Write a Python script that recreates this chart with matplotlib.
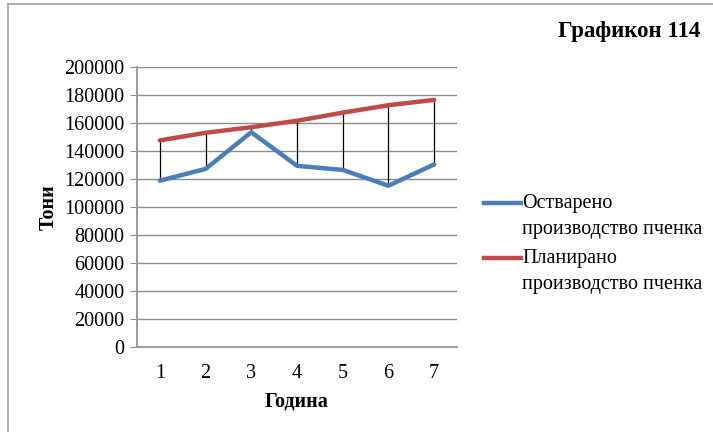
import matplotlib.pyplot as plt
from matplotlib.lines import Line2D

plt.rcParams.update({
    "font.family": ["Liberation Serif", "DejaVu Serif"],
    "font.size": 14.5,
})

years = [1, 2, 3, 4, 5, 6, 7]
actual = [118800, 127200, 153400, 129400, 126500, 115200, 130400]
planned = [147600, 153000, 157000, 161600, 167400, 172700, 176500]
yticks = list(range(0, 200001, 20000))
series_names = ["Остварено\nпроизводство пченка", "Планирано\nпроизводство пченка"]
colors = ["#4a7ebb", "#be4b48"]

W, H = 713, 432
fig = plt.figure(figsize=(W / 100, H / 100), dpi=100)
ax = fig.add_axes([137 / W, 1 - 347 / H, 320 / W, 280 / H])

ax.vlines(years, actual, planned, color="black", linewidth=0.9, zorder=2)
for vals, col in zip([actual, planned], colors):
    ax.plot(years, vals, color=col, linewidth=3.2, solid_capstyle="round", zorder=3)

ax.set_xlim(0.5, 7.5)
ax.set_ylim(0, 200000)
ax.set_xticks(years)
ax.set_yticks(yticks)
ax.set_yticklabels([str(v) for v in yticks])
ax.grid(axis="y", color="#8c8c8c", linewidth=1.0, zorder=0)
ax.set_axisbelow(True)

for side in ["top", "right"]:
    ax.spines[side].set_visible(False)
for side in ["left", "bottom"]:
    ax.spines[side].set_color("#8c8c8c")
    ax.spines[side].set_linewidth(1.2)
ax.tick_params(axis="y", length=5, color="#8c8c8c", pad=4)
ax.tick_params(axis="x", length=0, pad=12)

ax.set_xlabel("Година", fontweight="bold", labelpad=6)
ax.set_ylabel("Тони", fontweight="bold", labelpad=4)

fig.text(700 / W, 1 - 31 / H, "Графикон 114", ha="right", va="center",
         fontweight="bold", fontsize=16.5)

# legend drawn by hand so the handle sits on the first text line
for i, (name, col) in enumerate(zip(series_names, colors)):
    y = 1 - (203 + i * 55) / H
    fig.add_artist(Line2D([484 / W, 521 / W], [y, y], color=col, linewidth=3.2,
                          transform=fig.transFigure))
    fig.text(522 / W, y + 9 / H, name, ha="left", va="top", linespacing=1.5)

fig.add_artist(Line2D([8 / W, 1], [1 - 4 / H, 1 - 4 / H], color="#a0a0a0",
                      linewidth=1.2, transform=fig.transFigure))
fig.add_artist(Line2D([8 / W, 8 / W], [0, 1 - 4 / H], color="#a0a0a0",
                      linewidth=1.2, transform=fig.transFigure))

fig.savefig("out.png", dpi=100)
